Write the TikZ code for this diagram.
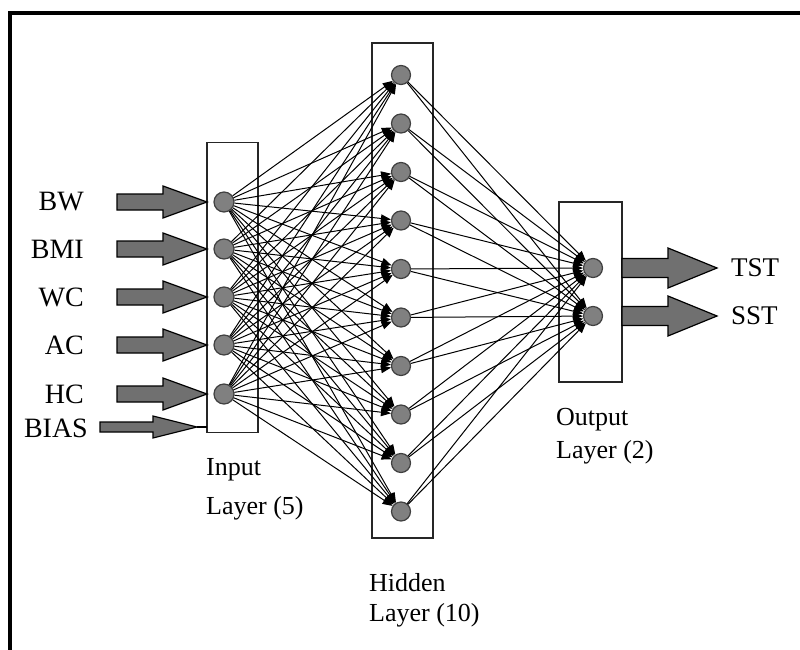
\documentclass[tikz,border=0pt]{standalone}
\usepackage{fontspec}
\setmainfont{Liberation Serif}
\usetikzlibrary{arrows.meta}
\definecolor{ngray}{RGB}{128,128,128}
\definecolor{agray}{RGB}{112,112,112}
\begin{document}
\begin{tikzpicture}[x=1pt,y=-1pt,
 neuron/.style={circle,draw=black!75,fill=ngray,line width=1.2pt,minimum size=19pt,inner sep=0pt},
 layerbox/.style={draw=black!85,line width=1.3pt,inner sep=0pt,outer sep=0pt},
 link/.style={line width=1pt,-{Triangle[length=10pt,width=8pt]}},
 lab/.style={font=\fontsize{26}{30}\selectfont,inner sep=0pt},
 inlab/.style={font=\fontsize{28}{32}\selectfont,inner sep=0pt},
 blockarrow/.style={draw=black,line width=1.2pt,fill=agray,line join=miter},
]
\useasboundingbox (0,0) rectangle (800,650);
\draw[line width=4pt] (10,655) -- (10,13) -- (805,13);

% layer boxes
\node[layerbox,minimum width=51pt,minimum height=290pt] (inbox) at (232.5,287.5) {};
\node[layerbox,minimum width=61pt,minimum height=495pt] (hidbox) at (402.5,290.5) {};
\node[layerbox,minimum width=63pt,minimum height=180pt] (outbox) at (590.5,292) {};

% neurons
\foreach \i/\y in {1/202,2/249,3/297,4/345,5/394}
  \node[neuron,minimum size=20pt] (in\i) at (224,\y) {};
\foreach \j in {1,...,10}
  \node[neuron] (hid\j) at (401,{75+48.5*(\j-1)}) {};
\node[neuron] (out1) at (593,268) {};
\node[neuron] (out2) at (593,316) {};

% connections
\foreach \i in {1,...,5}
  \foreach \j in {1,...,10}
    \draw[link] (in\i) -- (hid\j);
\foreach \j in {1,...,10}
  \foreach \k in {1,2}
    \draw[link] (hid\j) -- (out\k);

% input block arrows and labels
\foreach \i/\y/\t in {1/202/BW,2/249/BMI,3/297/WC,4/345/AC,5/394/HC}{
  \draw[blockarrow] (117,\y-8) -- (163,\y-8) -- (163,\y-16) -- (in\i.west -| inbox.west) -- (163,\y+16) -- (163,\y+8) -- (117,\y+8) -- cycle;
  \node[inlab,anchor=east] (lab\i) at (84,\y) {\t};
}
% bias
\coordinate (biasend) at (inbox.west |- 0,427);
\draw[blockarrow] (100,422) -- (153,422) -- (153,416) -- (197,427) -- (153,438) -- (153,432) -- (100,432) -- cycle;
\draw[line width=1.2pt] (197,427) -- (biasend);
\node[inlab,anchor=east] (biaslab) at (88,428) {BIAS};

% output block arrows and labels
\foreach \k/\y/\t in {1/268/TST,2/316/SST}{
  \draw[blockarrow] (outbox.east |- 0,\y-9.5) -- (668,\y-9.5) -- (668,\y-20) -- (717,\y) -- (668,\y+20) -- (668,\y+9.5) -- (outbox.east |- 0,\y+9.5) -- cycle;
  \node[lab,anchor=west,font=\fontsize{27}{30}\selectfont] (olab\k) at (731,\y) {\t};
}

% layer captions
\node[lab,anchor=west] (incap1) at (206,470) {Input};
\node[lab,anchor=west] (incap2) at (206,508) {Layer (5)};
\node[lab,anchor=west] (hidcap1) at (369,583) {Hidden};
\node[lab,anchor=west] (hidcap2) at (369,615) {Layer (10)};
\node[lab,anchor=west] (outcap1) at (556,420) {Output};
\node[lab,anchor=west] (outcap2) at (556,452) {Layer (2)};
\end{tikzpicture}
\end{document}
